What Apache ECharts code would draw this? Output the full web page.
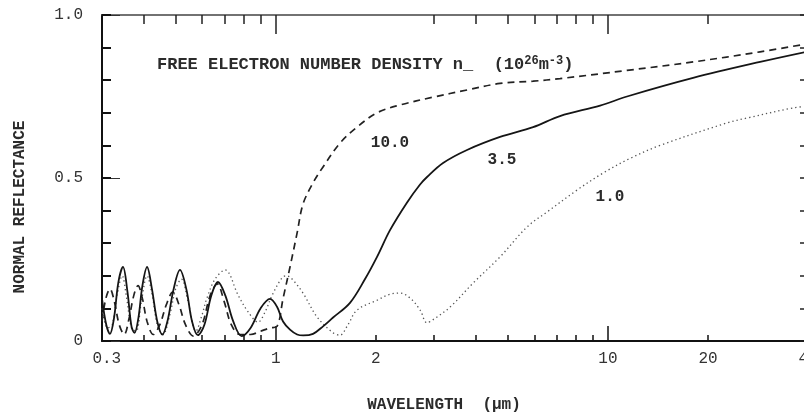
<!DOCTYPE html>
<html>
<head>
<meta charset="utf-8">
<script src="https://cdn.jsdelivr.net/npm/echarts/dist/echarts.min.js"></script>
<style>
html,body{margin:0;padding:0;background:#fff;}
#chart{width:804px;height:415px;}
</style>
</head>
<body>
<div id="chart"></div>
<script>
// ---- data ----
// Wavelength (um) and normal reflectance, n = 10.0 (dashed)
const lambda10 = [0.300,0.308,0.317,0.327,0.338,0.350,0.362,0.374,0.385,0.397,0.410,0.428,0.448,0.468,0.490,0.512,0.535,0.565,0.600,0.635,0.667,0.700,0.735,0.780,0.840,0.900,0.960,1.009,1.052,1.104,1.159,1.208,1.295,1.388,1.561,1.757,2.018,2.366,2.975,3.765,4.733,5.952,7.17,11.41,18.04,28.7,40];
const refl10   = [0.06,0.13,0.16,0.12,0.05,0.02,0.07,0.14,0.17,0.13,0.06,0.02,0.05,0.11,0.15,0.11,0.05,0.015,0.05,0.14,0.175,0.12,0.05,0.02,0.02,0.03,0.04,0.045,0.13,0.227,0.33,0.42,0.485,0.534,0.607,0.656,0.70,0.724,0.748,0.77,0.79,0.797,0.805,0.83,0.856,0.887,0.912];
// n = 3.5 (solid)
const lambda35 = [0.300,0.309,0.317,0.326,0.336,0.347,0.358,0.368,0.376,0.386,0.397,0.410,0.424,0.440,0.456,0.472,0.493,0.515,0.538,0.560,0.583,0.610,0.640,0.670,0.705,0.745,0.790,0.840,0.900,0.961,1.009,1.052,1.104,1.16,1.21,1.295,1.388,1.488,1.673,1.857,2.018,2.208,2.485,2.719,2.854,3.189,3.765,4.733,5.952,7.17,9.47,11.41,18.04,28.7,40];
const refl35   = [0.13,0.05,0.022,0.07,0.18,0.227,0.15,0.045,0.025,0.07,0.17,0.227,0.16,0.06,0.02,0.06,0.16,0.218,0.16,0.06,0.018,0.05,0.14,0.181,0.14,0.06,0.015,0.04,0.10,0.129,0.105,0.06,0.035,0.02,0.017,0.022,0.045,0.072,0.117,0.19,0.258,0.34,0.425,0.48,0.503,0.546,0.586,0.626,0.656,0.69,0.722,0.75,0.807,0.856,0.888];
// n = 1.0 (dotted)
const lambda1 = [0.300,0.312,0.322,0.333,0.345,0.356,0.368,0.380,0.394,0.410,0.425,0.440,0.458,0.480,0.500,0.520,0.545,0.575,0.600,0.620,0.657,0.704,0.771,0.825,0.885,0.930,0.975,1.047,1.08,1.12,1.208,1.331,1.488,1.561,1.65,1.757,2.018,2.2,2.37,2.55,2.72,2.854,3.0,3.347,3.93,4.733,5.71,6.56,8.07,9.66,11.65,14.35,22.83,26.22,36.07,40];
const refl1   = [0.10,0.04,0.05,0.14,0.20,0.13,0.04,0.03,0.12,0.20,0.14,0.05,0.02,0.08,0.16,0.19,0.12,0.03,0.08,0.13,0.19,0.218,0.14,0.09,0.058,0.09,0.14,0.195,0.20,0.19,0.147,0.074,0.025,0.018,0.05,0.095,0.125,0.143,0.147,0.13,0.095,0.056,0.068,0.104,0.178,0.258,0.35,0.396,0.463,0.515,0.56,0.60,0.669,0.684,0.715,0.72];

const curveNames = ['10.0', '3.5', '1.0'];
const xTickValues = [0.3, 1, 2, 10, 20, 40];
const xTickLabels = ['0.3', '1', '2', '10', '20', '40'];
const xMajorTicks = [1, 10];
const xBottomMinorTicks = [0.4, 0.5, 0.6, 0.7, 0.8, 0.9, 2, 3, 4, 5, 6, 7, 8, 9, 20];
const xTopMinorTicks = [0.4, 0.5, 0.6, 0.7, 0.8, 0.9, 3, 4, 5, 6, 7, 8, 9, 20];
const yTickValues = [0, 0.5, 1];
const yTickLabels = ['0', '0.5', '1.0'];

function zip(xs, ys) { return xs.map((x, i) => [x, ys[i]]); }

const FONT = 'Liberation Mono';
const INK = '#2b2b2b';

function xLabel(v) {
  let best = 0;
  xTickValues.forEach((t, i) => { if (Math.abs(Math.log(v) - Math.log(t)) < Math.abs(Math.log(v) - Math.log(xTickValues[best]))) best = i; });
  return best === 0 ? ' ' + xTickLabels[0] : xTickLabels[best];
}
function yLabel(v) {
  let best = 0;
  yTickValues.forEach((t, i) => { if (Math.abs(v - t) < Math.abs(v - yTickValues[best])) best = i; });
  return yTickLabels[best];
}

function xAxisBase(position) {
  return {
    type: 'log', min: 0.3, max: 40, logBase: 10, position: position,
    splitLine: { show: false }, axisLabel: { show: false },
    axisLine: { show: false, onZero: false }
  };
}

const chart = echarts.init(document.getElementById('chart'), null, { renderer: 'canvas' });
chart.setOption({
  backgroundColor: '#ffffff',
  animation: false,
  grid: { left: 102, top: 15, width: 706, height: 326, containLabel: false, outerBoundsMode: 'none' },
  xAxis: [
    Object.assign(xAxisBase('bottom'), {
      axisLine: { show: true, onZero: false, lineStyle: { color: '#111', width: 2 } },
      axisTick: { show: true, inside: true, length: 15, customValues: xMajorTicks, lineStyle: { color: '#111', width: 1.5 } },
      axisLabel: { show: true, customValues: xTickValues, formatter: xLabel, margin: 10, color: '#333', fontFamily: FONT, fontSize: 16, hideOverlap: false },
      name: 'WAVELENGTH  (\u03bcm)', nameLocation: 'middle', nameGap: 56,
      nameTextStyle: { fontFamily: FONT, fontSize: 16, fontWeight: 'bold', color: INK, padding: [0, 22, 0, 0] }
    }),
    Object.assign(xAxisBase('bottom'), {
      axisTick: { show: true, inside: true, length: 6, customValues: xBottomMinorTicks, lineStyle: { color: '#111', width: 1.5 } }
    }),
    Object.assign(xAxisBase('top'), {
      axisLine: { show: true, onZero: false, lineStyle: { color: '#444', width: 1.5 } },
      axisTick: { show: true, inside: true, length: 19, customValues: xMajorTicks, lineStyle: { color: '#222', width: 1.5 } }
    }),
    Object.assign(xAxisBase('top'), {
      axisTick: { show: true, inside: true, length: 9, customValues: xTopMinorTicks, lineStyle: { color: '#222', width: 1.5 } }
    })
  ],
  yAxis: [
    {
      type: 'value', min: 0, max: 1, interval: 0.5, position: 'left',
      splitLine: { show: false },
      axisLine: { show: true, onZero: false, lineStyle: { color: '#111', width: 2 } },
      axisTick: { show: true, inside: true, length: 18, lineStyle: { color: '#333', width: 1 } },
      axisLabel: { show: true, formatter: yLabel, margin: 19, color: '#333', fontFamily: FONT, fontSize: 16 },
      name: 'NORMAL REFLECTANCE', nameLocation: 'middle', nameRotate: 90, nameGap: 74,
      nameTextStyle: { fontFamily: FONT, fontSize: 16, fontWeight: 'bold', color: INK, padding: [0, 58, 0, 0] }
    },
    {
      type: 'value', min: 0, max: 1, interval: 0.1, position: 'left',
      splitLine: { show: false }, axisLine: { show: false, onZero: false }, axisLabel: { show: false },
      axisTick: { show: true, inside: true, length: 9, lineStyle: { color: '#111', width: 2 } }
    },
    {
      type: 'value', min: 0, max: 1, interval: 0.1, position: 'right',
      splitLine: { show: false }, axisLine: { show: false, onZero: false }, axisLabel: { show: false },
      axisTick: { show: true, inside: true, length: 8, lineStyle: { color: '#222', width: 1.5 } }
    }
  ],
  graphic: [
    {
      type: 'text', left: 157, top: 55, silent: true,
      style: {
        text: 'FREE ELECTRON NUMBER DENSITY n_  (10{sup|26}m{sup|-3})',
        font: 'bold 17px "' + FONT + '"', fill: INK,
        rich: { sup: { fontSize: 12, fontFamily: FONT, fontWeight: 'bold', fill: INK, verticalAlign: 'top', padding: [0, 0, 8, 0] } }
      }
    },
    { type: 'text', x: 390, y: 143, silent: true, style: { text: curveNames[0], font: 'bold 16px "' + FONT + '"', fill: INK, align: 'center', verticalAlign: 'middle' } },
    { type: 'text', x: 502, y: 160, silent: true, style: { text: curveNames[1], font: 'bold 16px "' + FONT + '"', fill: INK, align: 'center', verticalAlign: 'middle' } },
    { type: 'text', x: 610, y: 197, silent: true, style: { text: curveNames[2], font: 'bold 16px "' + FONT + '"', fill: INK, align: 'center', verticalAlign: 'middle' } }
  ],
  series: [
    {
      name: curveNames[0], type: 'line', xAxisIndex: 0, yAxisIndex: 0, data: zip(lambda10, refl10),
      symbol: 'none', smooth: 0.35, lineStyle: { color: '#222', width: 1.7, type: [7, 5] }, z: 3
    },
    {
      name: curveNames[1], type: 'line', xAxisIndex: 0, yAxisIndex: 0, data: zip(lambda35, refl35),
      symbol: 'none', smooth: 0.35, lineStyle: { color: '#151515', width: 1.8, type: 'solid' }, z: 4
    },
    {
      name: curveNames[2], type: 'line', xAxisIndex: 0, yAxisIndex: 0, data: zip(lambda1, refl1),
      symbol: 'none', smooth: 0.35, lineStyle: { color: '#555', width: 1.3, type: [1.3, 3] }, z: 2
    }
  ]
});
</script>
</body>
</html>
